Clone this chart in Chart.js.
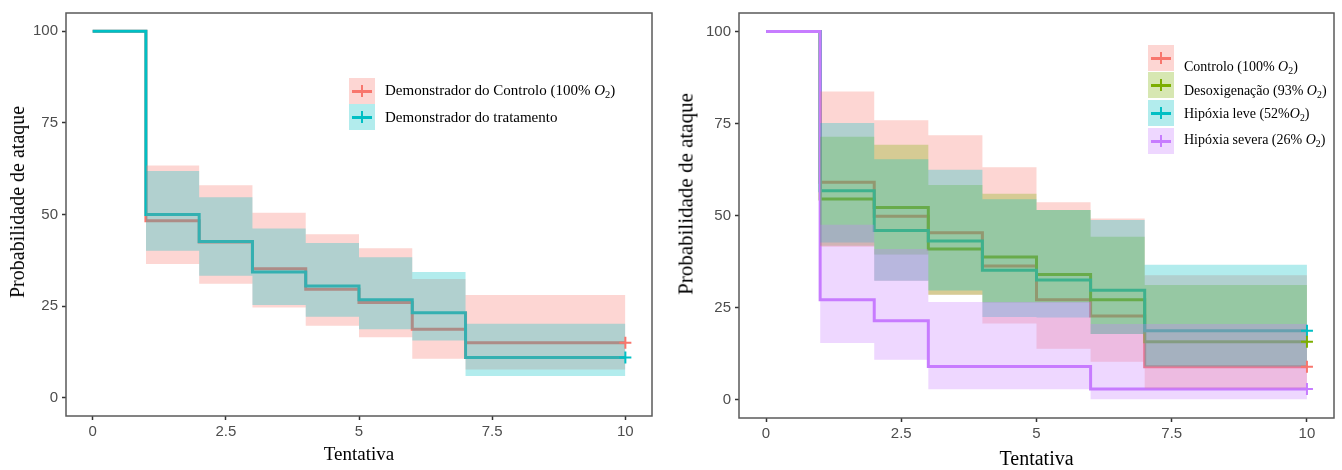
<!DOCTYPE html>
<html>
<head>
<meta charset="utf-8">
<script src="https://cdn.jsdelivr.net/npm/chart.js@4.4.1/dist/chart.umd.min.js"></script>
<style>
    body { margin: 0; background: #fff; width: 1342px; height: 470px; position: relative; overflow: hidden; }
    .panel { position: absolute; top: 0; height: 470px; }
    .ytitle { position: absolute; font-family: "Liberation Serif", serif; color: #000; white-space: nowrap;
              transform: translate(-50%, -50%) rotate(-90deg); line-height: 1; }
    .key { position: absolute; width: 26px; height: 26px; }
    .key .h { position: absolute; left: 3px; right: 3px; top: 11.5px; height: 3px; }
    .key .v { position: absolute; left: 12px; width: 2px; top: 7px; height: 12px; }
    .lab { position: absolute; font-family: "Liberation Serif", serif; color: #000; white-space: nowrap;
           line-height: 1; transform: translateY(-50%); }
    .lab sub { font-size: 70%; vertical-align: -0.25em; }
</style>
</head>
<body>
<canvas id="leftChart" class="panel" style="left:0" width="665" height="470"></canvas>
<canvas id="rightChart" class="panel" style="left:670px" width="672" height="470"></canvas>
<div id="overlay"></div>

<script>
// ============================================
// DADOS
// ============================================
const xTicks = [0, 2.5, 5, 7.5, 10];
const yTicks = [0, 25, 50, 75, 100];
const followUpEnd = 10;
const xTitle = 'Tentativa';
const yTitle = 'Probabilidade de ataque';

// Painel esquerdo (bandas começam em t = 1)
const leftTimes = [0, 1, 2, 3, 4, 5, 6, 7];
const leftNames = ['Demonstrador do Controlo (100% <i>O</i><sub>2</sub>)', 'Demonstrador do tratamento'];
const leftColors = ['#F8766D', '#00BFC4'];
const ctrlSurv   = [100, 48.3, 42.5, 35.2, 29.6, 26.0, 18.7, 15.0];
const ctrlUpper  = [63.4, 58.0, 50.5, 44.6, 40.8, 32.4, 28.0];
const ctrlLower  = [36.5, 31.1, 24.6, 19.6, 16.5, 10.6, 7.7];
const treatSurv  = [100, 50.0, 42.6, 34.3, 30.5, 26.7, 23.2, 11.0];
const treatUpper = [61.9, 54.7, 46.2, 42.2, 38.3, 34.3, 20.2];
const treatLower = [40.1, 33.3, 25.3, 22.1, 18.7, 15.6, 5.9];

// Painel direito
const rightTimes = [0, 1, 2, 3, 4, 5, 6, 7];
const rightNames = ['Controlo (100% <i>O</i><sub>2</sub>)', 'Desoxigenação (93% <i>O</i><sub>2</sub>)',
                    'Hipóxia leve (52%<i>O</i><sub>2</sub>)', 'Hipóxia severa (26% <i>O</i><sub>2</sub>)'];
const rightColors = ['#F8766D', '#7CAE00', '#00BFC4', '#C77CFF'];
const controloSurv  = [100, 59.0, 49.8, 45.3, 36.3, 27.1, 22.7, 8.9];
const controloUpper = [83.7, 75.9, 71.8, 63.1, 53.6, 49.2, 33.8];
const controloLower = [41.5, 32.3, 28.5, 20.7, 13.8, 10.3, 3.0];
const desoxSurv  = [100, 54.5, 52.2, 40.9, 38.7, 34.0, 27.1, 15.7];
const desoxUpper = [71.4, 69.2, 58.3, 55.9, 51.5, 44.2, 31.1];
const desoxLower = [41.8, 39.4, 28.5, 26.4, 26.4, 17.8, 9.0];
const leveSurv  = [100, 56.7, 45.9, 43.1, 35.1, 32.5, 29.7, 18.7];
const leveUpper = [75.1, 65.3, 62.4, 54.4, 51.5, 48.8, 36.6];
const leveLower = [42.7, 32.3, 29.6, 22.4, 22.3, 17.8, 9.0];
const severaSurv  = [100, 27.1, 21.4, 9.0, 9.0, 9.0, 2.9, 2.9];
const severaUpper = [47.5, 40.9, 26.5, 26.5, 26.5, 20.5, 20.5];
const severaLower = [15.4, 10.8, 2.8, 2.8, 2.8, 0.1, 0.1];

// ============================================
// HELPERS
// ============================================
function stepPoints(times, values) {
    const pts = times.map((t, i) => ({ x: t, y: values[i] }));
    pts.push({ x: followUpEnd, y: values[values.length - 1] });
    return pts;
}

function alpha(hex, a) {
    const n = parseInt(hex.slice(1), 16);
    return `rgba(${n >> 16}, ${(n >> 8) & 255}, ${n & 255}, ${a})`;
}

// escada de Kaplan-Meier: horizontal primeiro, depois a queda
const STEP = 'before';

function buildDatasets(times, colors, groups) {
    const lines = [], bands = [], marks = [];
    groups.forEach((g, k) => {
        const c = colors[k];
        lines.push({ data: stepPoints(times, g.surv), stepped: STEP, borderColor: c, borderWidth: 3,
                     pointRadius: 0, fill: false, order: 40 - k });
        bands.push({ data: stepPoints(times.slice(1), g.upper), stepped: STEP, borderWidth: 0,
                     pointRadius: 0, fill: '+1', backgroundColor: alpha(c, 0.3), order: 20 - k });
        bands.push({ data: stepPoints(times.slice(1), g.lower), stepped: STEP, borderWidth: 0,
                     pointRadius: 0, fill: false, order: 20 - k });
        marks.push({ data: [{ x: followUpEnd, y: g.surv[g.surv.length - 1] }], showLine: false,
                     pointStyle: 'cross', pointRadius: 6, borderColor: c, borderWidth: 2, order: 1 });
    });
    return [...lines, ...bands, ...marks];
}

const panelBorder = {
    id: 'panelBorder',
    afterDraw(chart) {
        const a = chart.chartArea, ctx = chart.ctx;
        ctx.save();
        ctx.strokeStyle = '#5a5a5a';
        ctx.lineWidth = 1.5;
        ctx.strokeRect(a.left, a.top, a.right - a.left, a.bottom - a.top);
        ctx.restore();
    }
};

function makeChart(id, datasets, geo) {
    const tickFont = { family: 'Liberation Sans', size: 15 };
    return new Chart(document.getElementById(id), {
        type: 'line',
        data: { datasets },
        options: {
            responsive: false,
            animation: false,
            layout: { padding: { top: geo.top, right: geo.right, left: 0, bottom: 0 } },
            plugins: { legend: { display: false }, tooltip: { enabled: false } },
            scales: {
                x: {
                    type: 'linear', min: -0.5, max: 10.5,
                    afterBuildTicks: s => { s.ticks = xTicks.map(v => ({ value: v })); },
                    afterFit: s => { s.height = geo.xh; },
                    grid: { drawOnChartArea: false, tickLength: 4, tickColor: '#333', tickWidth: 1.5 },
                    border: { display: false },
                    ticks: { font: tickFont, color: '#4d4d4d', padding: 3, maxRotation: 0, autoSkip: false,
                             callback: v => String(v) },
                    title: { display: true, text: xTitle, color: '#000',
                             font: { family: 'Liberation Serif', size: geo.titleSize, lineHeight: 1 },
                             padding: { top: 0, bottom: geo.titleBottom } }
                },
                y: {
                    type: 'linear', min: -5, max: 105,
                    afterBuildTicks: s => { s.ticks = yTicks.map(v => ({ value: v })); },
                    afterFit: s => { s.width = geo.yw; },
                    grid: { drawOnChartArea: false, tickLength: 4, tickColor: '#333', tickWidth: 1.5 },
                    border: { display: false },
                    ticks: { font: tickFont, color: '#4d4d4d', padding: 4, callback: v => String(v) }
                }
            }
        },
        plugins: [panelBorder]
    });
}

// ============================================
// GRÁFICOS
// ============================================
makeChart('leftChart', buildDatasets(leftTimes, leftColors, [
    { surv: ctrlSurv, upper: ctrlUpper, lower: ctrlLower },
    { surv: treatSurv, upper: treatUpper, lower: treatLower }
]), { top: 9, right: 13, xh: 54, yw: 66, titleSize: 19, titleBottom: 5 });

makeChart('rightChart', buildDatasets(rightTimes, rightColors, [
    { surv: controloSurv, upper: controloUpper, lower: controloLower },
    { surv: desoxSurv, upper: desoxUpper, lower: desoxLower },
    { surv: leveSurv, upper: leveUpper, lower: leveLower },
    { surv: severaSurv, upper: severaUpper, lower: severaLower }
]), { top: 5, right: 5, xh: 52, yw: 69, titleSize: 20, titleBottom: 0 });

// ============================================
// LEGENDAS E TÍTULOS DO EIXO Y (HTML)
// ============================================
const overlay = document.getElementById('overlay');

function addYTitle(x, y, size) {
    const d = document.createElement('div');
    d.className = 'ytitle';
    d.style.left = x + 'px';
    d.style.top = y + 'px';
    d.style.fontSize = size + 'px';
    d.textContent = yTitle;
    overlay.appendChild(d);
}

function addLegend(names, colors, keyX, keyTops, textX, textMids, size) {
    names.forEach((name, i) => {
        const k = document.createElement('div');
        k.className = 'key';
        k.style.left = keyX + 'px';
        k.style.top = keyTops[i] + 'px';
        k.style.background = alpha(colors[i], 0.3);
        k.innerHTML = `<div class="h" style="background:${colors[i]}"></div><div class="v" style="background:${colors[i]}"></div>`;
        overlay.appendChild(k);
        const t = document.createElement('div');
        t.className = 'lab';
        t.style.left = textX + 'px';
        t.style.top = textMids[i] + 'px';
        t.style.fontSize = size + 'px';
        t.innerHTML = name;
        overlay.appendChild(t);
    });
}

addYTitle(17, 202, 20);
addYTitle(686, 194, 21);
addLegend(leftNames, leftColors, 349, [78, 104], 385, [92, 117], 15);
addLegend(rightNames, rightColors, 1148, [45, 72, 100, 128], 1184, [68, 92, 115, 141], 14);
</script>
</body>
</html>
